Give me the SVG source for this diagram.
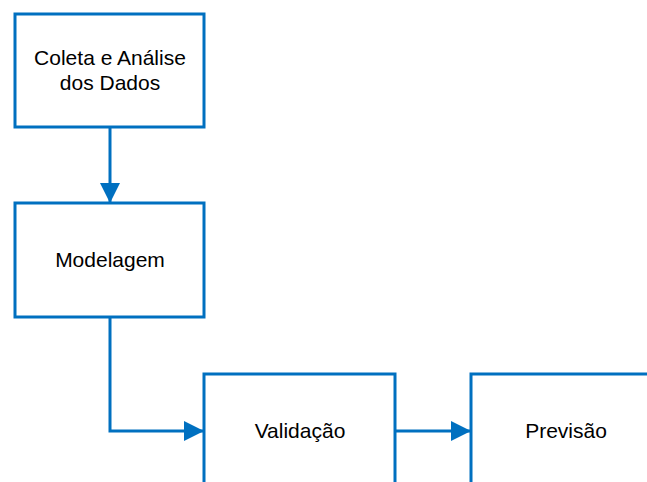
<svg xmlns="http://www.w3.org/2000/svg" width="647" height="482" viewBox="0 0 647 482">
  <style>
    .box { fill: #ffffff; stroke: #0070c0; stroke-width: 3; }
    .edge { fill: none; stroke: #0070c0; stroke-width: 3; }
    .label { font-family: "Liberation Sans", Arial, sans-serif; font-size: 21px; fill: #000000; text-anchor: middle; }
  </style>
  <defs>
    <marker id="arrow" markerUnits="userSpaceOnUse" markerWidth="20" markerHeight="20" refX="20" refY="10" orient="auto">
      <path d="M0,0 L20,10 L0,20 Z" fill="#0070c0"/>
    </marker>
  </defs>
  <rect width="647" height="482" fill="#ffffff"/>

  <g id="connectors">
    <path class="edge" d="M110,127 L110,203" marker-end="url(#arrow)"/>
    <path class="edge" d="M110,317 L110,431 L204,431" marker-end="url(#arrow)"/>
    <path class="edge" d="M395,431 L471,431" marker-end="url(#arrow)"/>
  </g>

  <g id="coleta">
    <rect class="box" x="15" y="14" width="189" height="113"/>
    <text class="label" x="110" y="65">Coleta e Análise</text>
    <text class="label" x="110" y="90">dos Dados</text>
  </g>

  <g id="modelagem">
    <rect class="box" x="15" y="203" width="189" height="114"/>
    <text class="label" x="110" y="267">Modelagem</text>
  </g>

  <g id="validacao">
    <rect class="box" x="204" y="374" width="191" height="120"/>
    <text class="label" x="300" y="438">Validação</text>
  </g>

  <g id="previsao">
    <rect class="box" x="471" y="374" width="191" height="120"/>
    <text class="label" x="566" y="438">Previsão</text>
  </g>
</svg>
